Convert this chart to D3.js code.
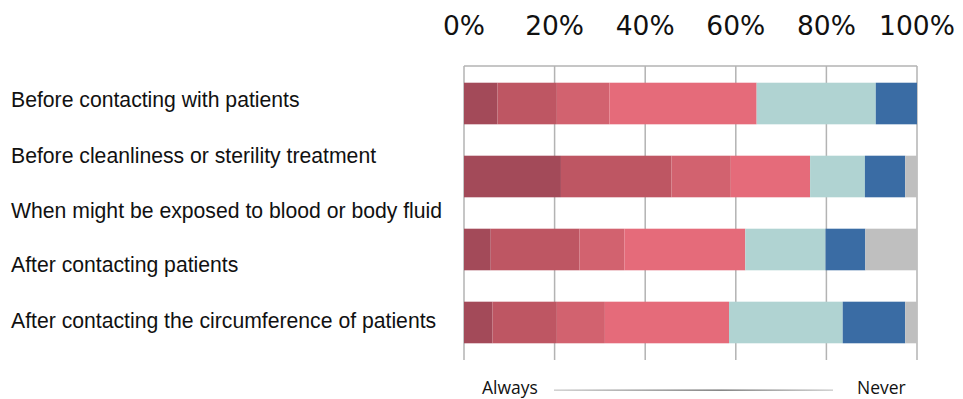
<!DOCTYPE html>
<html lang="en">
	<head>
		<meta charset="utf-8">
		<title>Hand hygiene timing - stacked bars</title>
		<script type="text/javascript" src="https://cdn.jsdelivr.net/npm/d3@7"></script>
		<style type="text/css">
			body { margin: 0; background: #fff; }
			svg { display: block; }
		</style>
	</head>
	<body>
		<script type="text/javascript">

			// Width and height
			var w = 963;
			var h = 399;

			// Row labels (5 labels, only 4 bars drawn in the original)
			var labels = [
				"Before contacting with patients",
				"Before cleanliness or sterility treatment",
				"When might be exposed to blood or body fluid",
				"After contacting patients",
				"After contacting the circumference of patients"
			];
			var labelY = [107, 163, 218, 272, 328];

			// Stacked shares (%), from "Always" to "Never", one array per bar
			var bars = ["b1", "b2", "b3", "b4"];
			var s1 = [7.4, 21.4, 5.9, 6.3];
			var s2 = [13.1, 24.4, 19.6, 14.2];
			var s3 = [11.6, 13.1, 9.9, 10.6];
			var s4 = [32.5, 17.5, 26.7, 27.4];
			var s5 = [26.3, 12.1, 17.7, 25.1];
			var s6 = [9.1, 8.9, 8.8, 13.8];
			var s7 = [0.0, 2.6, 11.4, 2.6];
			var seriesVals = [s1, s2, s3, s4, s5, s6, s7];
			var colors = ["#a34a59", "#be5663", "#d2626f", "#e56b7a", "#b0d3d2", "#3a6ca4", "#bfbfbf"];

			var ticks = [0, 20, 40, 60, 80, 100];

			var x = d3.scaleLinear().domain([0, 100]).range([464, 917]);
			var y = d3.scaleBand().domain(bars).range([63, 363]).paddingInner(0.43).paddingOuter(0.27);

			// build stack table
			var table = bars.map(function(b, i) {
				var row = { key: b };
				seriesVals.forEach(function(s, j) { row["s" + j] = s[i]; });
				return row;
			});
			var keys = seriesVals.map(function(s, j) { return "s" + j; });
			var stacked = d3.stack().keys(keys)(table);

			var svg = d3.select("body")
				.append("svg")
				.attr("width", w)
				.attr("height", h);

			// Gridlines
			svg.append("g")
				.selectAll("line")
				.data(ticks)
				.enter()
				.append("line")
				.attr("x1", function(d) { return x(d); })
				.attr("x2", function(d) { return x(d); })
				.attr("y1", 66)
				.attr("y2", 360)
				.attr("stroke", "#b3b3b3")
				.attr("stroke-width", 1.5);

			svg.append("line")
				.attr("x1", x(0)).attr("x2", x(100))
				.attr("y1", 66).attr("y2", 66)
				.attr("stroke", "#b3b3b3")
				.attr("stroke-width", 1.5);

			// Bars
			svg.append("g")
				.selectAll("g")
				.data(stacked)
				.enter()
				.append("g")
				.attr("fill", function(d, i) { return colors[i]; })
				.selectAll("rect")
				.data(function(d) { return d; })
				.enter()
				.append("rect")
				.attr("x", function(d) { return x(d[0]); })
				.attr("width", function(d) { return x(d[1]) - x(d[0]); })
				.attr("y", function(d) { return y(d.data.key); })
				.attr("height", y.bandwidth());

			// Top tick labels
			svg.append("g")
				.selectAll("text")
				.data(ticks)
				.enter()
				.append("text")
				.attr("x", function(d) { return x(d); })
				.attr("y", 35)
				.attr("text-anchor", "middle")
				.attr("font-family", "DejaVu Sans")
				.attr("font-size", 26.5)
				.attr("fill", "#111")
				.text(function(d) { return d + "%"; });

			// Row labels
			svg.append("g")
				.selectAll("text")
				.data(labels)
				.enter()
				.append("text")
				.attr("x", 11)
				.attr("y", function(d, i) { return labelY[i]; })
				.attr("font-family", "Liberation Sans, Arial")
				.attr("font-size", 21.2)
				.attr("fill", "#111")
				.text(function(d) { return d; });

			// Always ---- Never
			var grad = svg.append("defs").append("linearGradient")
				.attr("id", "fade");
			grad.append("stop").attr("offset", "0%").attr("stop-color", "#c8c8c8");
			grad.append("stop").attr("offset", "60%").attr("stop-color", "#6a6a6a");
			grad.append("stop").attr("offset", "100%").attr("stop-color", "#c8c8c8");

			svg.append("rect")
				.attr("x", 554).attr("y", 389.5)
				.attr("width", 279).attr("height", 1.3)
				.attr("fill", "url(#fade)");

			svg.append("text")
				.attr("x", 482).attr("y", 394)
				.attr("font-family", "Open Sans")
				.attr("font-size", 17.5)
				.attr("fill", "#111")
				.text("Always");

			svg.append("text")
				.attr("x", 857).attr("y", 394)
				.attr("font-family", "Open Sans")
				.attr("font-size", 17.5)
				.attr("fill", "#111")
				.text("Never");

		</script>
	</body>
</html>
